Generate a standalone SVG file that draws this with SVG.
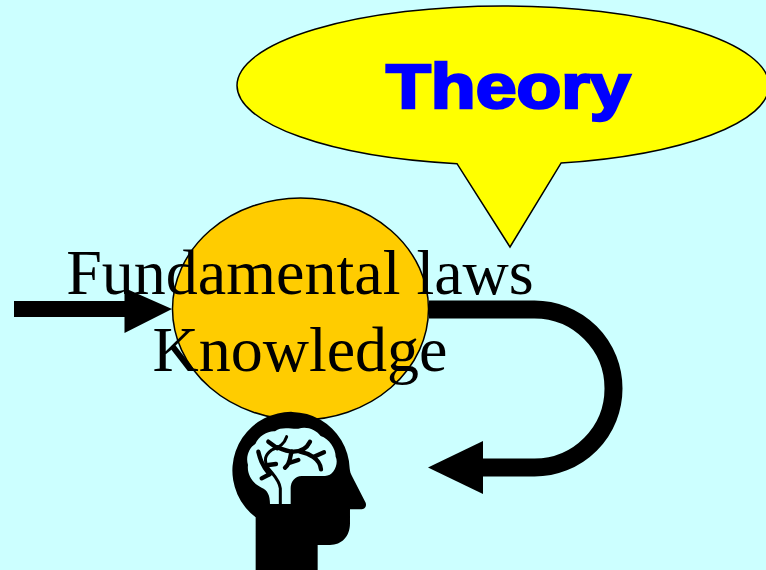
<svg xmlns="http://www.w3.org/2000/svg" width="766" height="570" viewBox="0 0 766 570">
<style>
.shape{stroke:#000;stroke-width:1.5}
.law{font-family:"Liberation Serif","Times New Roman",serif;font-size:64px;fill:#000;text-anchor:middle}
.title{font-family:"Liberation Sans",Arial,sans-serif;font-weight:bold;font-size:63px;fill:#00f;stroke:#00f;stroke-width:2.6;stroke-linejoin:miter}
.branch{fill:none;stroke:#000;stroke-width:13;stroke-linecap:round;stroke-linejoin:round}
</style>
<rect width="766" height="570" fill="#CCFFFF"/>
<g id="theory">
<path class="shape" fill="#FF0" d="M457 163.700 A266 79.500 0 0 1 237 85.500 A266 79.500 0 0 1 769 85.500 A266 79.500 0 0 1 561 163.100 L510 247 Z"/>
<text class="title" transform="translate(386 107.500) scale(1.165 1)">Theory</text>
</g>
<g id="knowledge">
<ellipse class="shape" fill="#FFCC00" cx="300.500" cy="309" rx="128" ry="111"/>
</g>
<g id="connectors">
<path d="M14 301 H124.500 V288 L172 309 L124.500 333 V317 H14 Z" fill="#000"/>
<path d="M429 309.500 H534.500 A79 79 0 0 1 534.500 467.500 H480" fill="none" stroke="#000" stroke-width="18"/>
<path d="M483 441 V494 L428 467.500 Z" fill="#000"/>
</g>
<g id="head" transform="translate(220 400) scale(.3333)">
<path fill="#000" d="M107 510 V352 A176 176 0 1 1 389 205 C390 215 392 222 397 230 L437 308 C441 320 433 328 422 328 H390 V370 C390 410 365 435 330 435 H293 V510 Z"/>
<path fill="#CCFFFF" d="M150 312 C150 285 142 270 125 263 C100 252 80 225 84 195 C76 170 88 142 106 132 C116 107 145 92 165 94 C185 78 215 88 235 86 C260 78 287 88 302 108 C327 116 347 145 347 170 C357 190 342 228 315 228 H245 C225 228 212 245 212 265 V312 Z"/>
<g class="branch">
<path d="M181 312 V265 C178 240 160 225 145 205 C130 180 135 165 155 150 C170 142 190 140 200 110" stroke-width="9"/>
<path d="M115 155 C120 175 125 195 148 222"/>
<path d="M125 235 L150 222"/>
<path d="M145 195 L168 192"/>
<path d="M145 125 L172 145"/>
<path d="M172 142 C190 150 205 155 220 155 C240 155 260 145 270 125"/>
<path d="M215 155 C208 175 212 190 195 203"/>
<path d="M210 188 L235 180"/>
<path d="M240 155 C265 160 300 175 303 208"/>
<path d="M282 170 L312 157"/>
</g>
</g>
<text class="law" x="300" y="294">Fundamental laws</text>
<text class="law" x="300" y="371">Knowledge</text>
</svg>
